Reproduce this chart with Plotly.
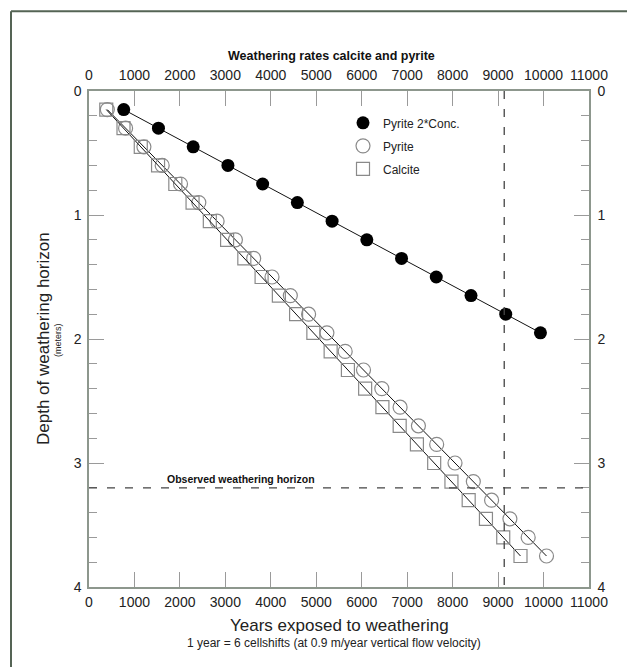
import plotly.graph_objects as go

# ---- data ----
depth_pyrite2 = [0.15, 0.30, 0.45, 0.60, 0.75, 0.90, 1.05, 1.20, 1.35, 1.50, 1.65, 1.80, 1.95]
years_pyrite2 = [764, 1528, 2292, 3056, 3820, 4584, 5348, 6112, 6876, 7640, 8404, 9168, 9932]

depth_pyrite = [0.15, 0.30, 0.45, 0.60, 0.75, 0.90, 1.05, 1.20, 1.35, 1.50, 1.65, 1.80, 1.95,
                2.10, 2.25, 2.40, 2.55, 2.70, 2.85, 3.00, 3.15, 3.30, 3.45, 3.60, 3.75]
years_pyrite = [403, 805, 1208, 1610, 2013, 2416, 2818, 3221, 3623, 4026, 4429, 4831, 5234,
                5636, 6039, 6442, 6844, 7247, 7649, 8052, 8455, 8857, 9260, 9662, 10065]

depth_calcite = [0.15, 0.30, 0.45, 0.60, 0.75, 0.90, 1.05, 1.20, 1.35, 1.50, 1.65, 1.80, 1.95,
                 2.10, 2.25, 2.40, 2.55, 2.70, 2.85, 3.00, 3.15, 3.30, 3.45, 3.60, 3.75]
years_calcite = [380, 759, 1139, 1519, 1899, 2278, 2658, 3038, 3417, 3797, 4177, 4556, 4936,
                 5316, 5696, 6075, 6455, 6835, 7214, 7594, 7974, 8353, 8733, 9113, 9493]

observed_depth = 3.2
marker_year = 9135

x_ticks = [0, 1000, 2000, 3000, 4000, 5000, 6000, 7000, 8000, 9000, 10000, 11000]
x_ticktext = [str(v) for v in x_ticks]
y_ticks = [0, 1, 2, 3, 4]

series_names = ["Pyrite 2*Conc.", "Pyrite", "Calcite"]

FONT = "Liberation Sans, Arial, Helvetica, sans-serif"
GRAY = "#8a8a8a"
AX = "#8d978d"
TICKC = "#9a9a9a"

fig = go.Figure()

# data traces (lines + markers), not in legend
fig.add_trace(go.Scatter(x=years_pyrite2, y=depth_pyrite2, mode="lines+markers",
                         line=dict(color="#111", width=1),
                         marker=dict(symbol="circle", size=13, color="#000"),
                         showlegend=False))
fig.add_trace(go.Scatter(x=years_pyrite, y=depth_pyrite, mode="lines+markers",
                         line=dict(color="#111", width=1),
                         marker=dict(symbol="circle-open", size=14, color=GRAY, line=dict(width=1.2, color=GRAY)),
                         showlegend=False))
fig.add_trace(go.Scatter(x=years_calcite, y=depth_calcite, mode="lines+markers",
                         line=dict(color="#111", width=1),
                         marker=dict(symbol="square-open", size=13, color=GRAY, line=dict(width=1.2, color=GRAY)),
                         showlegend=False))

# legend-only entries (marker only, as in the reference), placed on the secondary axes
legend_markers = [
    dict(symbol="circle", size=13, color="#000"),
    dict(symbol="circle-open", size=14, color=GRAY, line=dict(width=1.2, color=GRAY)),
    dict(symbol="square-open", size=13, color=GRAY, line=dict(width=1.2, color=GRAY)),
]
for i, (name, mk) in enumerate(zip(series_names, legend_markers)):
    fig.add_trace(go.Scatter(x=[None], y=[None], mode="markers", name=name, marker=mk,
                             legendgroup=f"g{i}", xaxis="x2", yaxis="y2"))

tickfont = dict(family=FONT, size=14, color="#222")


def xaxis_style(**kw):
    d = dict(range=[0, 11000], tickvals=x_ticks, ticktext=x_ticktext, ticks="inside", ticklen=15,
             tickcolor=TICKC, showline=True, linecolor=AX, linewidth=1.5, showgrid=False,
             zeroline=False, tickfont=tickfont, anchor="y")
    d.update(kw)
    return d


def yaxis_style(**kw):
    d = dict(range=[4, 0], tickvals=y_ticks, ticks="inside", ticklen=15, tickcolor=TICKC,
             minor=dict(dtick=0.2, ticks="inside", ticklen=8, tickcolor=TICKC),
             showline=True, linecolor=AX, linewidth=1.5, showgrid=False, zeroline=False,
             tickfont=tickfont, anchor="x")
    d.update(kw)
    return d


# the page adds an 8px body margin, so the figure is 8px smaller than the window
fig.update_layout(
    width=627, height=659,
    margin=dict(l=81, r=46, t=83, b=80),
    paper_bgcolor="white", plot_bgcolor="white",
    font=dict(family=FONT, color="#222"),
    xaxis=xaxis_style(ticklabelstandoff=1),
    xaxis2=xaxis_style(side="top", overlaying="x", ticklabelstandoff=4),
    yaxis=yaxis_style(ticklabelstandoff=3),
    yaxis2=yaxis_style(side="right", overlaying="y", ticklabelstandoff=4),
    legend=dict(x=0.508, y=0.965, xanchor="left", yanchor="top", bgcolor="rgba(0,0,0,0)",
                font=dict(family=FONT, size=12, color="#222"), traceorder="grouped",
                tracegroupgap=4, itemwidth=30),
    showlegend=True,
)

# reference dashed lines
fig.add_shape(type="line", xref="x", yref="y", x0=0, x1=11000, y0=observed_depth, y1=observed_depth,
              line=dict(color="#444", width=1.3, dash="8px,10px"))
fig.add_shape(type="line", xref="x", yref="y", x0=marker_year, x1=marker_year, y0=0, y1=4,
              line=dict(color="#444", width=1.3, dash="8px,10px"))

# outer frame (left and top edges)
fig.add_shape(type="line", xref="paper", yref="paper", x0=-0.156, x1=-0.156, y0=-0.2, y1=1.161,
              line=dict(color="#556455", width=2))
fig.add_shape(type="line", xref="paper", yref="paper", x0=-0.156, x1=1.2, y0=1.161, y1=1.161,
              line=dict(color="#556455", width=2))

# texts
fig.add_annotation(text="<b>Weathering rates calcite and pyrite</b>", xref="paper", yref="paper",
                   x=(331 - 89) / 500, y=1 - (56 - 91) / 496, xanchor="center", yanchor="middle",
                   showarrow=False, font=dict(family=FONT, size=12.5, color="#111"))
fig.add_annotation(text="<b>Observed weathering horizon</b>", xref="x", yref="y",
                   x=1666, y=observed_depth, xanchor="left", yanchor="bottom", yshift=1,
                   showarrow=False, font=dict(family=FONT, size=10.5, color="#111"))
fig.add_annotation(text="Years exposed to weathering", xref="paper", yref="paper",
                   x=0.5, y=1 - (625 - 91) / 496, xanchor="center", yanchor="middle",
                   showarrow=False, font=dict(family=FONT, size=17, color="#222"))
fig.add_annotation(text="1 year = 6 cellshifts (at 0.9 m/year vertical flow velocity)", xref="paper",
                   yref="paper", x=0.49, y=1 - (643 - 91) / 496, xanchor="center", yanchor="middle",
                   showarrow=False, font=dict(family=FONT, size=12, color="#222"))
fig.add_annotation(text="Depth of weathering horizon", xref="paper", yref="paper",
                   x=(43 - 89) / 500, y=0.5, xanchor="center", yanchor="middle", textangle=-90,
                   showarrow=False, font=dict(family=FONT, size=17, color="#222"))
fig.add_annotation(text="(meters)", xref="paper", yref="paper",
                   x=(58 - 89) / 500, y=1 - (340 - 91) / 496, xanchor="center", yanchor="middle",
                   textangle=-90, showarrow=False, font=dict(family=FONT, size=9, color="#222"))

fig.write_html("out.html")
